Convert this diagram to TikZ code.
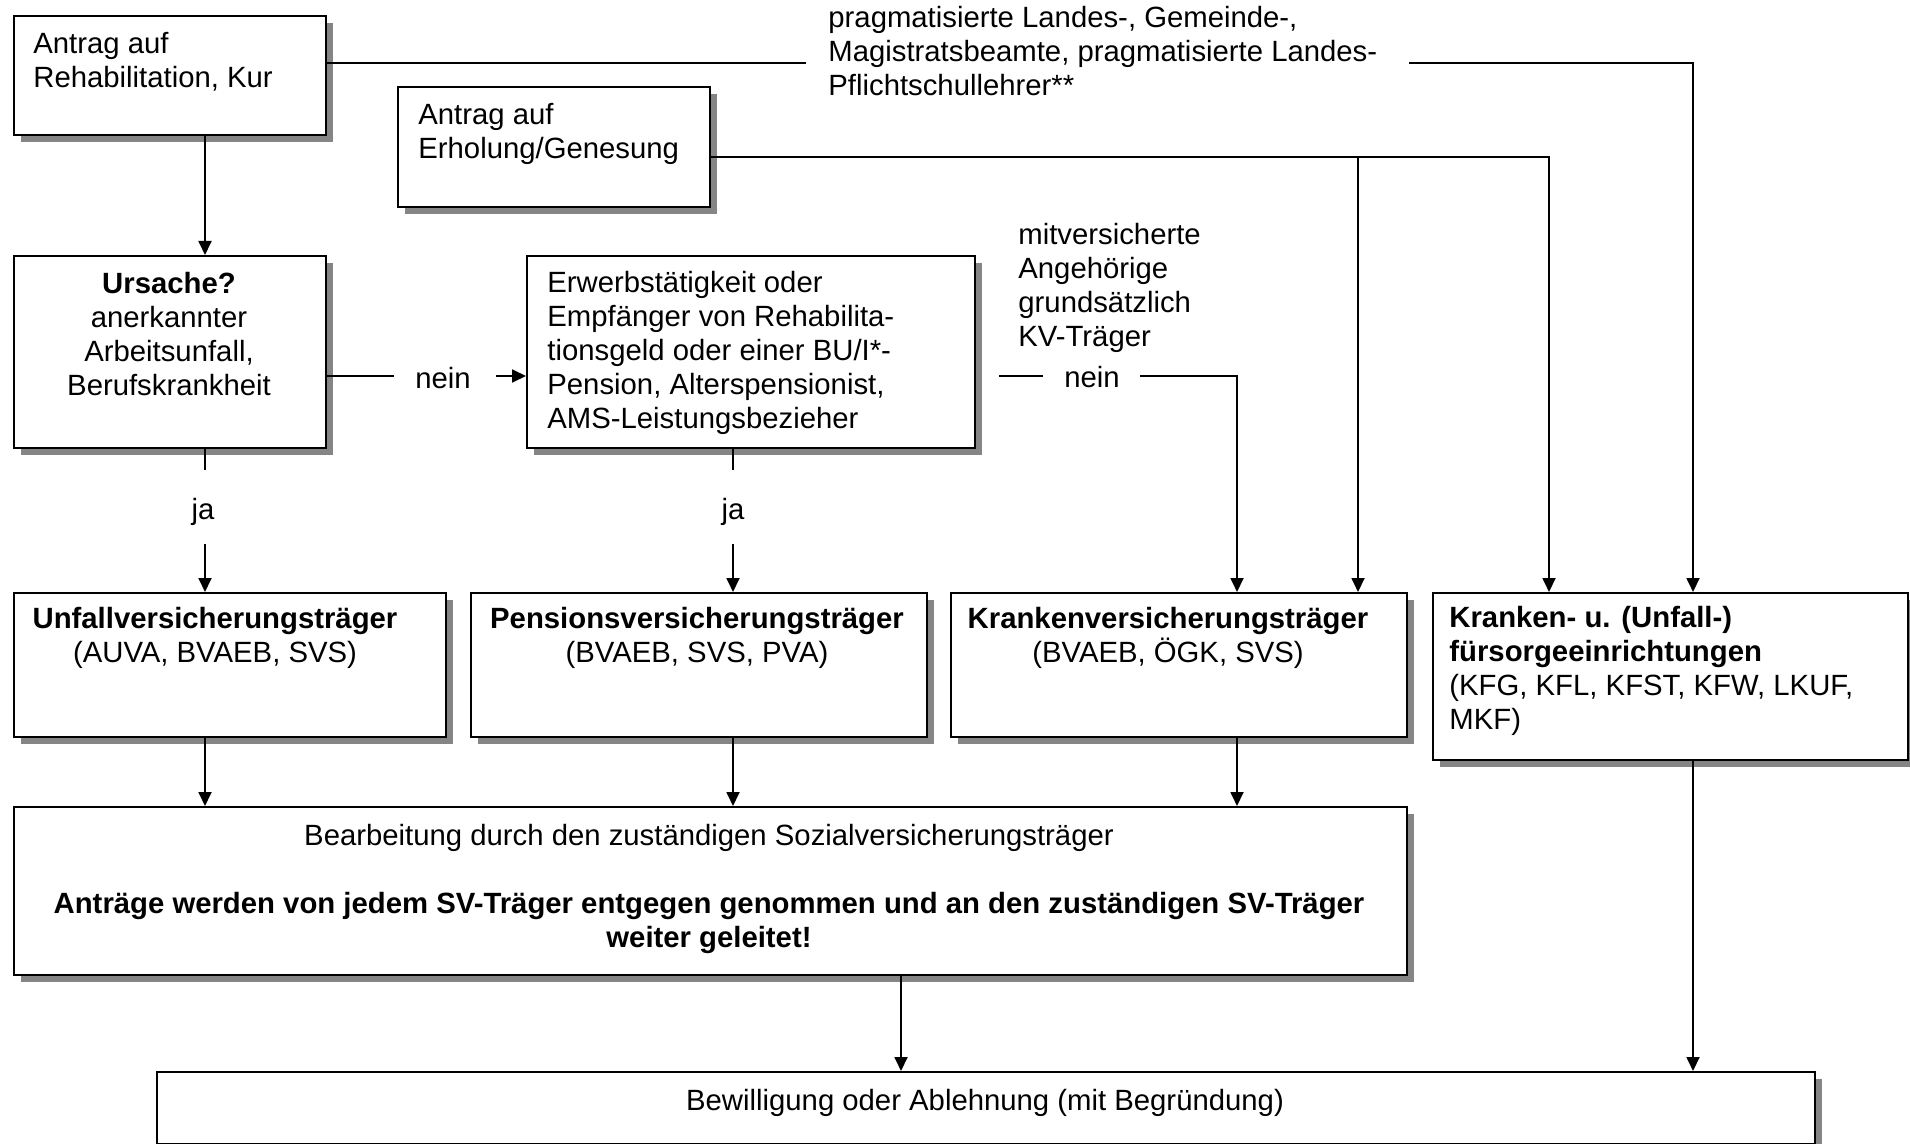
\documentclass[tikz,border=0pt]{standalone}
\usepackage{fontspec}
\setmainfont{Liberation Sans}
\usetikzlibrary{shadows,arrows.meta}
\newcommand{\firstln}{\rule{0pt}{12pt}}
\begin{document}
\begin{tikzpicture}[x=0.5pt,y=-0.5pt,
  every node/.style={font=\fontsize{14.65pt}{17pt}\selectfont, inner sep=0pt},
  box/.style={draw, line width=1.1pt, fill=white, anchor=north west, inner sep=0pt,
    drop shadow={shadow xshift=3.5pt, shadow yshift=-3.5pt, fill=black!48, opacity=1}},
  txt/.style={anchor=north west, align=left},
  ctxt/.style={anchor=north, align=center},
  lab/.style={anchor=north west, align=left},
  con/.style={line width=0.9pt},
  arr/.style={con, -{Triangle[length=7pt,width=6.5pt]}}]
\useasboundingbox (0,0) rectangle (1910,1144);

% boxes
\node[box, minimum width=156pt, minimum height=59.5pt] (b1) at (13,15) {};
\node[box, minimum width=156pt, minimum height=60pt] (b2) at (397,86) {};
\node[box, minimum width=156pt, minimum height=96pt] (urs) at (13,255) {};
\node[box, minimum width=224pt, minimum height=96pt] (erw) at (526,255) {};
\node[box, minimum width=216pt, minimum height=72pt] (uv) at (13,592) {};
\node[box, minimum width=228pt, minimum height=72pt] (pv) at (470,592) {};
\node[box, minimum width=228pt, minimum height=72pt] (kv) at (950,592) {};
\node[box, minimum width=237.5pt, minimum height=83.5pt] (kf) at (1432,592) {};
\node[box, minimum width=696.5pt, minimum height=84pt] (bea) at (13,806) {};
\node[box, minimum width=829pt, minimum height=36pt] (bew) at (156,1071) {};

% texts
\node[txt] (t1) at (33,29) {\firstln Antrag auf\\Rehabilitation, Kur};
\node[txt] (t2) at (418,100) {\firstln Antrag auf\\Erholung/Genesung};
\node[lab] (t3) at (828,3) {\firstln pragmatisierte Landes-, Gemeinde-,\\Magistratsbeamte, pragmatisierte Landes-\\Pflichtschullehrer**};
\node[ctxt] (t4) at (169,269) {\firstln\textbf{Ursache?}\\anerkannter\\Arbeitsunfall,\\Berufskrankheit};
\node[txt] (t5) at (547,268) {\firstln Erwerbstätigkeit oder\\Empfänger von Rehabilita-\\tionsgeld oder einer BU/I*-\\Pension, Alterspensionist,\\AMS-Leistungsbezieher};
\node[lab] (t6) at (1018,220) {\firstln mitversicherte\\Angehörige\\grundsätzlich\\KV-Träger};
\node[ctxt] (t7) at (215,604) {\firstln\textbf{Unfallversicherungsträger}\\(AUVA, BVAEB, SVS)};
\node[ctxt] (t8) at (697,604) {\firstln\textbf{Pensionsversicherungsträger}\\(BVAEB, SVS, PVA)};
\node[ctxt] (t9) at (1168,604) {\firstln\textbf{Krankenversicherungsträger}\\(BVAEB, ÖGK, SVS)};
\node[txt] (t10) at (1449,603) {\firstln\textbf{Kranken- u. (Unfall-)}\\\textbf{fürsorgeeinrichtungen}\\(KFG, KFL, KFST, KFW, LKUF,\\MKF)};
\node[ctxt] (t11) at (709,821) {\firstln Bearbeitung durch den zuständigen Sozialversicherungsträger};
\node[ctxt, font=\fontsize{14.65pt}{17pt}\selectfont\bfseries] (t12) at (709,889) {\firstln Anträge werden von jedem SV-Träger entgegen genommen und an den zuständigen SV-Träger\\weiter geleitet!};
\node[ctxt] (t13) at (985,1086) {\firstln Bewilligung oder Ablehnung (mit Begründung)};
\node[ctxt] (ja1) at (203,495) {\firstln ja};
\node[ctxt] (ja2) at (733,495) {\firstln ja};
\node[ctxt] (n1) at (443,364) {\firstln nein};
\node[ctxt] (n2) at (1092,363) {\firstln nein};

% helper coordinates
\coordinate (xa) at (205,0);
\coordinate (xb) at (733,0);
\coordinate (xc) at (1237,0);
\coordinate (xd) at (1358,0);
\coordinate (xe) at (1549,0);
\coordinate (xf) at (1693,0);
\coordinate (xg) at (901,0);
\coordinate (gapL) at (806,63);
\coordinate (gapR) at (1409,63);
\coordinate (rowE) at (0,157);
\coordinate (n1L) at (394,376);
\coordinate (n1R) at (496,376);
\coordinate (n2L) at (999,376);
\coordinate (n2M) at (1043,376);
\coordinate (n2R) at (1140,376);
\coordinate (ja1T) at (205,470);
\coordinate (ja1B) at (205,544);
\coordinate (ja2T) at (733,470);
\coordinate (ja2B) at (733,544);

% connectors
\draw[con] (b1.east |- gapL) -- (gapL);
\draw[arr] (gapR) -| (kf.north -| xf);
\draw[arr] (b2.east |- rowE) -| (kf.north -| xe);
\draw[arr] (xd |- rowE) -- (kv.north -| xd);
\draw[arr] (b1.south -| xa) -- (urs.north -| xa);
\draw[con] (urs.east |- n1L) -- (n1L);
\draw[arr] (n1R) -- (erw.west |- n1R);
\draw[con] (n2L) -- (n2M);
\draw[arr] (n2R) -| (kv.north -| xc);
\draw[con] (urs.south -| xa) -- (ja1T);
\draw[arr] (ja1B) -- (uv.north -| xa);
\draw[con] (erw.south -| xb) -- (ja2T);
\draw[arr] (ja2B) -- (pv.north -| xb);
\draw[arr] (uv.south -| xa) -- (bea.north -| xa);
\draw[arr] (pv.south -| xb) -- (bea.north -| xb);
\draw[arr] (kv.south -| xc) -- (bea.north -| xc);
\draw[arr] (bea.south -| xg) -- (bew.north -| xg);
\draw[arr] (kf.south -| xf) -- (bew.north -| xf);
\end{tikzpicture}
\end{document}
